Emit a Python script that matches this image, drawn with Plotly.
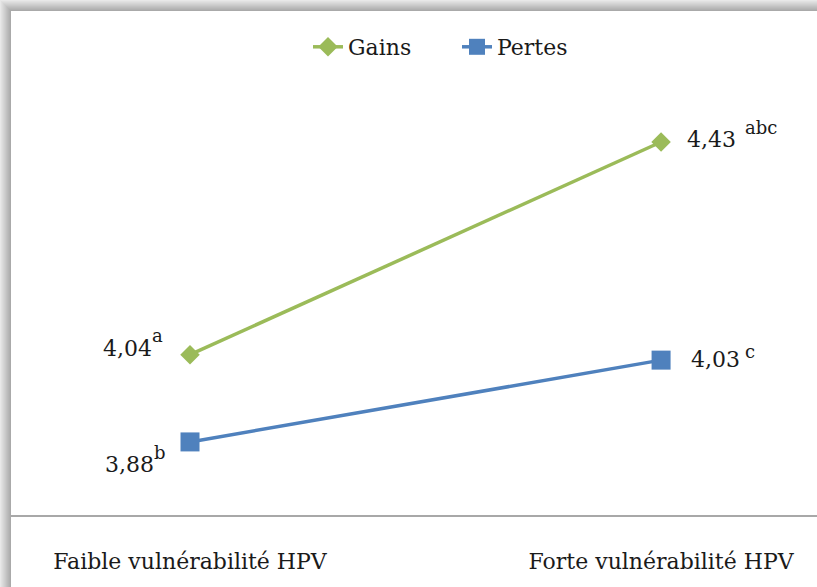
import plotly.graph_objects as go

# Chart data
categories = ["Faible vulnérabilité HPV", "Forte vulnérabilité HPV"]
gains = [4.04, 4.43]
pertes = [3.88, 4.03]
gains_sup = ["a", "abc"]
pertes_sup = ["b", "c"]

W, H = 817, 587
ML, MR, MT, MB = 11, 0, 10, 72
FONT = "DejaVu Serif"
GREEN = "#9bbb59"
BLUE = "#4f81bd"
TEXT = "#1a1a1a"

fig = go.Figure()
fig.add_trace(go.Scatter(
    x=categories, y=gains, name="Gains", mode="lines+markers",
    line=dict(color=GREEN, width=3.5),
    marker=dict(symbol="diamond", size=15, color=GREEN),
))
fig.add_trace(go.Scatter(
    x=categories, y=pertes, name="Pertes", mode="lines+markers",
    line=dict(color=BLUE, width=3.5),
    marker=dict(symbol="square", size=19, color=BLUE),
))

def fmt(v):
    return f"{v:.2f}".replace(".", ",")

num_font = dict(family=FONT, size=22, color=TEXT)
sup_font = dict(family=FONT, size=18, color=TEXT)

# (category index, value, superscript, number anchor, number shifts, superscript shifts)
label_specs = [
    (0, gains[0], gains_sup[0], "right", (-37, 6), (-39, 19)),
    (0, pertes[0], pertes_sup[0], "right", (-35, -23), (-37, -11)),
    (1, gains[1], gains_sup[1], "left", (25, 2), (83, 14)),
    (1, pertes[1], pertes_sup[1], "left", (29, 1), (83, 9)),
]
annotations = []
for ci, val, sup, anchor, (nx, ny), (sx, sy) in label_specs:
    annotations.append(dict(x=categories[ci], y=val, text=fmt(val),
                            xanchor=anchor, yanchor="middle",
                            xshift=nx, yshift=ny, font=num_font))
    annotations.append(dict(x=categories[ci], y=val, text=sup,
                            xanchor="left", yanchor="middle",
                            xshift=sx, yshift=sy, font=sup_font))
for a in annotations:
    a.update(showarrow=False, xref="x", yref="y", borderpad=0)

# Frame shadow along the top and left edges (drawn in paper coordinates)
pw = W - ML - MR
ph = H - MT - MB
def px_x(p):
    return (p - ML) / pw
def px_y(p):
    return (H - MB - p) / ph

shapes = []
n = 11
for i in range(n):
    t = i / (n - 1)
    g = int(232 - 62 * t)
    col = f"rgb({g},{g},{g})"
    # left band
    shapes.append(dict(type="rect", xref="paper", yref="paper",
                       x0=px_x(i), x1=px_x(i + 1), y0=px_y(H), y1=px_y(i),
                       fillcolor=col, line=dict(width=0), layer="below"))
    # top band
    shapes.append(dict(type="rect", xref="paper", yref="paper",
                       x0=px_x(i), x1=px_x(W), y0=px_y(i + 1), y1=px_y(i),
                       fillcolor=col, line=dict(width=0), layer="below"))

fig.update_layout(
    width=W, height=H,
    margin=dict(l=ML, r=MR, t=MT, b=MB),
    paper_bgcolor="white", plot_bgcolor="white",
    font=dict(family=FONT, size=22, color=TEXT),
    showlegend=True,
    legend=dict(orientation="h", x=px_x(308), xanchor="left",
                y=px_y(47), yanchor="middle", font=dict(family=FONT, size=22, color=TEXT),
                entrywidth=104, entrywidthmode="pixels",
                bgcolor="rgba(0,0,0,0)"),
    annotations=annotations,
    shapes=shapes,
)
fig.update_xaxes(
    type="category", range=[-0.38, 1.331],
    showgrid=False, zeroline=False,
    showline=True, linecolor="#a8a8a8", linewidth=2,
    ticks="", ticklabelstandoff=26,
    tickfont=dict(family=FONT, size=22, color=TEXT),
)
fig.update_yaxes(
    range=[3.746, 4.672], showgrid=False, zeroline=False,
    showline=False, showticklabels=False, ticks="",
)

fig.write_html("out.html")
